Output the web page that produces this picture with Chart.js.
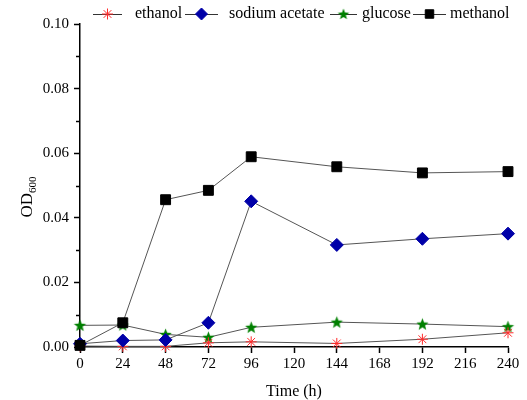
<!DOCTYPE html>
<html><head><meta charset="utf-8">
<script src="https://cdn.jsdelivr.net/npm/chart.js@4"></script>
<style>html,body{margin:0;padding:0;background:#fff;}#wrap{width:527px;height:400px;}</style>
</head><body><div id="wrap"><canvas id="c" width="527" height="400"></canvas></div>
<script>
const timeHours = [0, 24, 48, 72, 96, 144, 192, 240];
const ethanol = [0.0003, 0.0002, 0.0002, 0.0013, 0.0016, 0.0011, 0.0024, 0.0044];
const sodiumAcetate = [0.0010, 0.0020, 0.0022, 0.0075, 0.0451, 0.0316, 0.0335, 0.0351];
const glucose = [0.0067, 0.0068, 0.0039, 0.0030, 0.0061, 0.0077, 0.0071, 0.0063];
const methanol = [0.0005, 0.0075, 0.0456, 0.0485, 0.0589, 0.0558, 0.0539, 0.0543];
const seriesNames = ['ethanol', 'sodium acetate', 'glucose', 'methanol'];
const xTickValues = [0, 24, 48, 72, 96, 120, 144, 168, 192, 216, 240];
const yTickValues = [0, 0.02, 0.04, 0.06, 0.08, 0.10];
const yMinorTicks = [0.01, 0.03, 0.05, 0.07, 0.09];
const xTitle = 'Time (h)';
const yTitleMain = 'OD';
const yTitleSub = '600';

const SERIF = '"Liberation Serif", "Times New Roman", serif';
const RED = '#ff2a2a', BLUE = '#0000a8', GREEN = '#008000', BLACK = '#000000';
const LINE = '#555555';

function makeStar(R, color) {
  const s = Math.ceil(R * 2 + 2);
  const cv = document.createElement('canvas');
  cv.width = s; cv.height = s;
  const g = cv.getContext('2d');
  const cx = s / 2, cy = s / 2 + R * 0.08, r = R * 0.42;
  g.beginPath();
  for (let i = 0; i < 10; i++) {
    const rr = i % 2 === 0 ? R : r;
    const a = -Math.PI / 2 + i * Math.PI / 5;
    const px = cx + rr * Math.cos(a), py = cy + rr * Math.sin(a);
    i === 0 ? g.moveTo(px, py) : g.lineTo(px, py);
  }
  g.closePath();
  g.fillStyle = color; g.fill();
  return cv;
}
const starImg = makeStar(6.5, GREEN);
const starImgLegend = makeStar(6, GREEN);

function toXY(vals) { return timeHours.map((t, i) => ({ x: t, y: vals[i] })); }

const datasets = [
  { label: seriesNames[0], data: toXY(ethanol), pointStyle: 'star', pointRadius: 5.5,
    pointBorderColor: RED, pointBackgroundColor: RED, pointBorderWidth: 1, order: 2 },
  { label: seriesNames[1], data: toXY(sodiumAcetate), pointStyle: 'rectRot', pointRadius: 6.5,
    pointBorderColor: BLUE, pointBackgroundColor: BLUE, pointBorderWidth: 1, order: 1 },
  { label: seriesNames[2], data: toXY(glucose), pointStyle: starImg, pointRadius: 6,
    pointBorderColor: GREEN, pointBackgroundColor: GREEN, order: 3 },
  { label: seriesNames[3], data: toXY(methanol), pointStyle: 'rect', pointRadius: 7,
    pointBorderColor: BLACK, pointBackgroundColor: BLACK, pointBorderWidth: 1, order: 0 }
].map(d => Object.assign({ borderColor: LINE, borderWidth: 1, showLine: true, tension: 0, clip: false,
  pointHoverRadius: d.pointRadius }, d));

const legendItems = [
  { name: seriesNames[0], l0: 93, l1: 122, tx: 135, style: 'star', color: RED, r: 5.5 },
  { name: seriesNames[1], l0: 185, l1: 218, tx: 229, style: 'rectRot', color: BLUE, r: 6 },
  { name: seriesNames[2], l0: 330, l1: 357, tx: 362, style: 'img', color: GREEN, r: 6 },
  { name: seriesNames[3], l0: 413, l1: 446, tx: 450, style: 'rect', color: BLACK, r: 6 }
];

const decorPlugin = {
  id: 'decor',
  afterDraw(chart) {
    const ctx = chart.ctx;
    const ys = chart.scales.y, xs = chart.scales.x;
    const left = chart.chartArea.left;
    ctx.save();
    ctx.strokeStyle = '#000'; ctx.lineWidth = 1.5;
    yMinorTicks.forEach(v => {
      const py = Math.round(ys.getPixelForValue(v)) + 0.5;
      ctx.beginPath(); ctx.moveTo(left - 4, py); ctx.lineTo(left, py); ctx.stroke();
    });
    const ly = 14;
    ctx.font = '16px ' + SERIF;
    ctx.textBaseline = 'middle'; ctx.textAlign = 'left';
    legendItems.forEach(it => {
      ctx.strokeStyle = '#333'; ctx.lineWidth = 1;
      ctx.beginPath(); ctx.moveTo(it.l0, ly + 0.5); ctx.lineTo(it.l1, ly + 0.5); ctx.stroke();
      const mx = (it.l0 + it.l1) / 2;
      if (it.style === 'img') {
        ctx.drawImage(starImgLegend, mx - starImgLegend.width / 2, ly - starImgLegend.height / 2);
      } else {
        ctx.fillStyle = it.color; ctx.strokeStyle = it.color; ctx.lineWidth = 1;
        Chart.helpers.drawPoint(ctx, { pointStyle: it.style, radius: it.r, rotation: 0, borderWidth: 1 }, mx, ly);
      }
      ctx.fillStyle = '#000';
      ctx.fillText(it.name, it.tx, ly);
    });
    ctx.font = '16px ' + SERIF;
    ctx.textAlign = 'center'; ctx.textBaseline = 'alphabetic';
    ctx.fillText(xTitle, (xs.left + xs.right) / 2, 396);
    ctx.translate(32, 197);
    ctx.rotate(-Math.PI / 2);
    ctx.font = '17px ' + SERIF;
    const w1 = ctx.measureText(yTitleMain).width;
    ctx.font = '11px ' + SERIF;
    const w2 = ctx.measureText(yTitleSub).width;
    const start = -(w1 + w2) / 2;
    ctx.textAlign = 'left';
    ctx.font = '17px ' + SERIF;
    ctx.fillText(yTitleMain, start, 0);
    ctx.font = '11px ' + SERIF;
    ctx.fillText(yTitleSub, start + w1, 4);
    ctx.restore();
  }
};

new Chart(document.getElementById('c'), {
  type: 'scatter',
  data: { datasets },
  options: {
    responsive: false, animation: false, devicePixelRatio: 1,
    layout: { padding: { top: 24, right: 19, left: 0, bottom: 0 } },
    plugins: { legend: { display: false }, tooltip: { enabled: false } },
    scales: {
      x: {
        type: 'linear', min: 0, max: 240,
        afterFit(s) { s.height = 53; },
        afterBuildTicks(s) { s.ticks = xTickValues.map(v => ({ value: v })); },
        ticks: { font: { family: SERIF, size: 15 }, color: '#000', padding: 2, maxRotation: 0,
          callback: v => String(v) },
        grid: { drawOnChartArea: false, drawTicks: true, tickLength: 6, color: '#000', tickWidth: 1.5 },
        border: { display: true, color: '#000', width: 1.5 }
      },
      y: {
        type: 'linear', min: 0, max: 0.1,
        afterFit(s) { s.width = 80; },
        afterBuildTicks(s) { s.ticks = yTickValues.map(v => ({ value: v })); },
        ticks: { font: { family: SERIF, size: 15 }, color: '#000', padding: 5,
          callback: v => Number(v).toFixed(2) },
        grid: { drawOnChartArea: false, drawTicks: true, tickLength: 6, color: '#000', tickWidth: 1.5 },
        border: { display: true, color: '#000', width: 1.5 }
      }
    }
  },
  plugins: [decorPlugin]
});
</script>
</body></html>
